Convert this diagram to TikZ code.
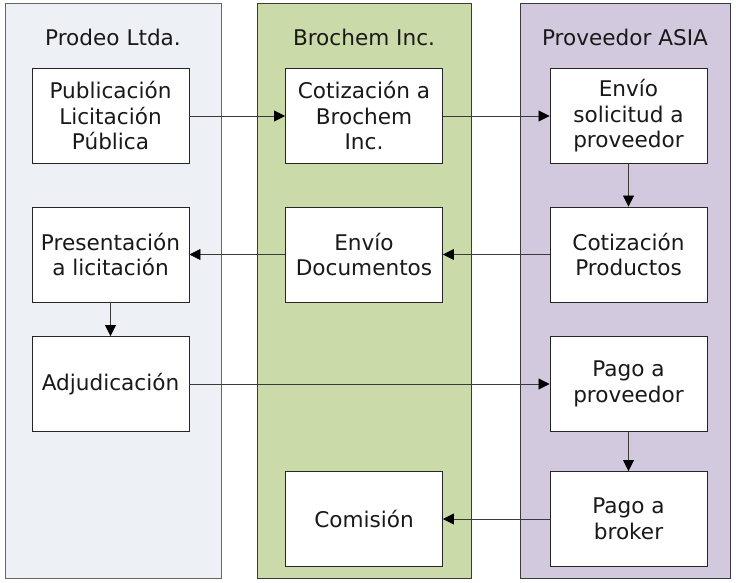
\documentclass[tikz,border=0pt]{standalone}
\usepackage{fontspec}
\setmainfont{DejaVu Sans}
\usetikzlibrary{arrows.meta}
\definecolor{laneA}{HTML}{EDF0F5}
\definecolor{laneB}{HTML}{CBDAA9}
\definecolor{laneC}{HTML}{D3C9DF}
\definecolor{edge}{HTML}{3A3A3A}
\tikzset{
  lane/.style={draw=edge, line width=0.9pt},
  stepbox/.style={draw=black!85, fill=white, line width=0.9pt, minimum width=157pt,
    minimum height=95pt, inner sep=0pt, align=center,
    font=\fontsize{21.6}{25.5}\selectfont, text=black!90},
  lanetitle/.style={font=\fontsize{21.6}{25.5}\selectfont, text=black!90},
  flow/.style={draw=edge, line width=0.8pt,
    -{Triangle[length=11pt,width=11pt,color=black,fill=black]}}
}
\begin{document}
\begin{tikzpicture}[x=1pt, y=-1pt]
\useasboundingbox (0,0) rectangle (736,583);
\fill[white] (0,0) rectangle (736,583);
% swimlanes
\filldraw[lane, fill=laneA, draw=black!60] (5,3) rectangle (221,578);
\filldraw[lane, fill=laneB] (257,3) rectangle (471,578);
\filldraw[lane, fill=laneC] (520,3) rectangle (730,578);
\node[lanetitle] (tA) at (113,37) {Prodeo Ltda.};
\node[lanetitle] (tB) at (364,37) {Brochem Inc.};
\node[lanetitle] (tC) at (625,37) {Proveedor ASIA};
% process steps
\node[stepbox] (pub) at (110.5,116) {Publicación\\Licitación\\Pública};
\node[stepbox] (cot) at (364,116) {Cotización a\\Brochem\\Inc.};
\node[stepbox] (sol) at (628.5,116) {Envío\\solicitud a\\proveedor};
\node[stepbox] (pre) at (110.5,254.5) {Presentación\\a licitación};
\node[stepbox] (doc) at (364,254.5) {Envío\\Documentos};
\node[stepbox] (prod) at (628.5,254.5) {Cotización\\Productos};
\node[stepbox] (adj) at (110.5,384) {Adjudicación};
\node[stepbox] (pago) at (628.5,384) {Pago a\\proveedor};
\node[stepbox] (com) at (364,519) {Comisión};
\node[stepbox] (brk) at (628.5,519) {Pago a\\broker};
% flow between steps
\draw[flow] (pub) -- (cot);
\draw[flow] (cot) -- (sol);
\draw[flow] (sol) -- (prod);
\draw[flow] (prod) -- (doc);
\draw[flow] (doc) -- (pre);
\draw[flow] (pre) -- (adj);
\draw[flow] (adj) -- (pago);
\draw[flow] (pago) -- (brk);
\draw[flow] (brk) -- (com);
\end{tikzpicture}
\end{document}
